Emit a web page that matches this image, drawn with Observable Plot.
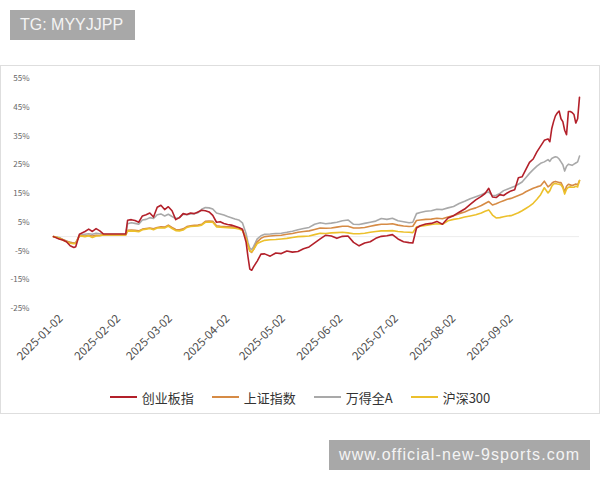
<!DOCTYPE html>
<html>
<head>
<meta charset="utf-8">
<script src="https://cdn.jsdelivr.net/npm/d3@7"></script>
<script src="https://cdn.jsdelivr.net/npm/@observablehq/plot@0.6"></script>
<style>
  html, body { margin: 0; padding: 0; background: #fff; }
  body { width: 600px; height: 480px; position: relative; overflow: hidden; font-family: "Noto Sans CJK SC", "Noto Sans", sans-serif; }
  .wm { position: absolute; background: #a8a8a8; color: #f4f4f4; font-family: "Liberation Sans", Arial, sans-serif; font-size: 16px; line-height: 30px; height: 30px; box-sizing: border-box; white-space: nowrap; }
  #frame { position: absolute; left: 0; top: 65px; width: 598px; height: 347px; border: 1px solid #dedede; background: #fff; }
  #chart { position: absolute; left: 0; top: 0; }
  #legend { position: absolute; left: 0; top: 316px; width: 598px; height: 30px; display: flex; justify-content: center; align-items: center; font-size: 13px; color: #333; }
  .item { display: flex; align-items: center; margin: 0 9px; }
  .swatch { width: 27px; height: 2px; margin-right: 5px; }
</style>
</head>
<body>
<div class="wm" style="left:10px; top:10px; width:125px; padding-left:10px;">TG: MYYJJPP</div>
<div id="frame">
  <div id="chart"></div>
  <div id="legend"></div>
</div>
<div class="wm" style="left:329px; top:440px; width:261px; padding-left:10px; letter-spacing:1.1px;">www.official-new-9sports.com</div>
<script>
const seriesNames = ["创业板指", "上证指数", "万得全A", "沪深300"];
const seriesColors = ["#b3202a", "#d68b45", "#a9a9a9", "#ecc02c"];

const xTickLabels = ["2025-01-02", "2025-02-02", "2025-03-02", "2025-04-02", "2025-05-02", "2025-06-02", "2025-07-02", "2025-08-02", "2025-09-02"];
const yTicks = [-25, -15, -5, 5, 15, 25, 35, 45, 55];

const dates = [
  "2024-12-29", "2025-01-01", "2025-01-03", "2025-01-05", "2025-01-07", "2025-01-09", "2025-01-10", "2025-01-12", "2025-01-15", "2025-01-17",
  "2025-01-19", "2025-01-21", "2025-01-23", "2025-01-25", "2025-02-06",
  "2025-02-07", "2025-02-09", "2025-02-11", "2025-02-13", "2025-02-15", "2025-02-17", "2025-02-19", "2025-02-21", "2025-02-23", "2025-02-25",
  "2025-02-27", "2025-03-01", "2025-03-03", "2025-03-05", "2025-03-07", "2025-03-09", "2025-03-11", "2025-03-13", "2025-03-15", "2025-03-17",
  "2025-03-19", "2025-03-21", "2025-03-23", "2025-03-25", "2025-03-27", "2025-03-29", "2025-03-31", "2025-04-02", "2025-04-04", "2025-04-06",
  "2025-04-08", "2025-04-10", "2025-04-12", "2025-04-13", "2025-04-14", "2025-04-15", "2025-04-16", "2025-04-18", "2025-04-20", "2025-04-22",
  "2025-04-25", "2025-04-28", "2025-05-01", "2025-05-04", "2025-05-07", "2025-05-10", "2025-05-13", "2025-05-16", "2025-05-19", "2025-05-22",
  "2025-05-25", "2025-05-28", "2025-05-31", "2025-06-03", "2025-06-06", "2025-06-09", "2025-06-12", "2025-06-15", "2025-06-18", "2025-06-21",
  "2025-06-24", "2025-06-27", "2025-06-30", "2025-07-03", "2025-07-06", "2025-07-09", "2025-07-11", "2025-07-13", "2025-07-15", "2025-07-18",
  "2025-07-21", "2025-07-24", "2025-07-27", "2025-07-30", "2025-08-02", "2025-08-05", "2025-08-08", "2025-08-11", "2025-08-14", "2025-08-17",
  "2025-08-19", "2025-08-21", "2025-08-23", "2025-08-25", "2025-08-27", "2025-08-29", "2025-08-31", "2025-09-02", "2025-09-04", "2025-09-06",
  "2025-09-08", "2025-09-10", "2025-09-12", "2025-09-14", "2025-09-16", "2025-09-18", "2025-09-20", "2025-09-22", "2025-09-23", "2025-09-24",
  "2025-09-25", "2025-09-26", "2025-09-27", "2025-09-28", "2025-09-29", "2025-09-30", "2025-10-01", "2025-10-02", "2025-10-03", "2025-10-04",
  "2025-10-05", "2025-10-06", "2025-10-07", "2025-10-08", "2025-10-09"
];

// 创业板指
const cyb = [
  0, -0.8, -1.2, -1.8, -3.2, -3.8, -3.5, 0.8, 1.8, 2.6,
  1.8, 2.8, 2.0, 0.9, 0.9,
  5.7, 5.9, 5.6, 5.0, 7.2, 7.6, 8.2, 6.8, 10.2, 10.9,
  9.4, 10.4, 9.0, 5.9, 6.6, 8.0, 7.7, 8.2, 8.0, 8.6,
  9.2, 9.0, 8.6, 7.4, 5.0, 5.2, 4.6, 4.2, 4.0, 3.6,
  3.2, 2.6, -2, -7, -11.3, -11.7, -10.5, -8.5, -6.1, -6.0,
  -6.8, -5.7, -5.9, -5.0, -5.4, -5.2, -4.2, -3.6, -2.2, -0.8,
  0.5, 0.2, -0.6, 0.1, 0.2, -2.0, -3.2, -2.2, -1.8, -0.6,
  0.1, 0.3, 0.7, -0.8, -1.8, -2.1, -2.2, 3.0, 3.8, 4.4,
  4.6, 5.3, 4.3, 6.5, 7.3, 8.5, 9.6, 11.2, 12.8, 14.0,
  15.0, 16.8, 13.8, 13.6, 14.6, 14.3, 15.2, 15.9, 16.3, 20.5,
  20.8, 23.3, 25.8, 27.0, 29.5, 31.5, 33.5, 34.0, 33.0, 37.5,
  40.0, 42.0, 43.0, 43.7, 41.0, 40.0, 37.0, 35.5, 43.5, 43.5,
  43.2, 42.5, 39.5, 41.0, 48.5
];

// 上证指数
const szzs = [
  0, -0.5, -1.0, -1.6, -2.0, -2.2, -2.2, 0.3, 0.2, 0.4,
  0.2, 0.5, 0.4, 0.6, 0.6,
  2.2, 2.3, 2.2, 2.0, 2.6, 2.8, 3.0, 2.7, 3.2, 3.4,
  3.3, 4.0, 3.2, 2.5, 2.4, 2.7, 3.5, 3.8, 3.9, 4.0,
  4.3, 5.3, 5.4, 5.3, 3.8, 3.6, 3.5, 3.4, 3.4, 3.2,
  3.0, 2.4, -0.5, -3, -5, -5.5, -4.5, -1.8, -0.6, 0.0,
  0.2, 0.4, 0.5, 0.8, 1.1, 1.5, 1.8, 2.0, 2.5, 3.0,
  2.9, 3.0, 3.3, 3.6, 3.6, 3.0, 3.0, 3.2, 3.6, 4.0,
  4.3, 4.3, 4.5, 4.0, 3.7, 3.5, 3.6, 5.6, 5.8, 6.0,
  6.1, 6.4, 6.2, 6.8, 7.3, 8.0, 8.6, 9.4, 10.0, 10.8,
  11.5, 12.2, 11.0, 11.4, 12.0, 12.5, 13.0, 13.3, 13.8, 14.3,
  14.8, 15.6, 16.2, 16.8, 17.3, 17.7, 19.3, 17.3, 17.8, 18.5,
  19.0, 19.2, 19.0, 18.8, 18.8, 17.5, 15.5, 17.5, 18.2, 18.0,
  17.8, 18.0, 18.3, 18.0, 19.5
];

// 万得全A
const wdqa = [
  0, -0.3, -1.0, -1.5, -2.0, -2.3, -2.2, 0.5, 0.8, 1.0,
  0.8, 1.2, 1.0, 0.8, 0.8,
  4.5, 4.8, 4.6, 4.3, 5.8, 6.0, 6.6, 6.3, 7.6, 7.9,
  7.2, 7.8, 7.0, 6.3, 6.6, 7.8, 7.6, 7.9, 8.0, 8.3,
  9.5, 10.1, 10.0, 9.6, 8.2, 7.9, 7.5, 7.0, 6.6, 6.1,
  5.8, 4.8, 1.0, -2, -4, -4.5, -3.5, -0.8, 0.3, 0.8,
  0.9, 1.1, 1.2, 1.5, 1.9, 2.4, 2.8, 3.2, 4.3, 4.8,
  4.5, 4.7, 5.0, 5.5, 5.8, 4.3, 4.2, 4.6, 5.0, 5.4,
  6.3, 6.0, 6.4, 5.5, 5.2, 4.8, 5.0, 8.0, 8.4, 8.8,
  9.0, 9.5, 9.4, 10.0, 10.5, 11.5, 12.3, 13.2, 13.9, 14.6,
  15.2, 15.5, 14.2, 14.4, 15.0, 16.0, 16.5, 17.0, 17.5, 18.2,
  19.0, 20.5, 22.0, 23.3, 24.5, 25.5, 26.0, 26.8, 26.2, 27.2,
  27.5, 27.8, 27.6, 27.0, 26.0, 25.0, 22.8, 24.5, 25.2, 25.0,
  24.8, 25.2, 25.6, 26.0, 28.0
];

// 沪深300
const hs300 = [
  0, -0.5, -1.2, -1.8, -2.3, -2.5, -2.4, 0.3, 0.0, 0.3,
  -0.3, 0.2, 0.3, 0.6, 0.6,
  1.9, 2.0, 1.9, 1.7, 2.4, 2.6, 2.8, 2.4, 3.0, 3.1,
  3.0, 3.7, 2.8, 2.1, 2.0, 2.3, 3.2, 3.5, 3.6, 3.7,
  4.0, 5.0, 5.1, 5.0, 3.4, 3.3, 3.2, 3.1, 3.0, 2.9,
  2.7, 2.1, -0.8, -3, -5, -5.3, -4.5, -2.4, -1.8, -1.3,
  -1.1, -1.0, -0.8, -0.6, -0.3, 0.0, 0.1, 0.2, 0.7, 1.2,
  1.1, 1.3, 1.4, 1.5, 1.3, 1.0, 1.0, 1.2, 1.5, 1.8,
  2.0, 2.0, 2.1, 1.8, 1.6, 1.5, 1.4, 3.4, 3.6, 3.9,
  4.2, 4.5, 4.3, 5.5, 6.0, 6.3, 6.8, 7.2, 7.6, 8.2,
  8.8, 9.3, 7.5, 6.5, 6.6, 6.9, 7.2, 7.3, 7.8, 8.3,
  9.0, 9.8, 10.6, 11.6, 13.0, 14.6, 17.0, 15.2, 16.0, 17.5,
  18.3, 18.5, 18.3, 18.2, 18.0, 17.0, 14.8, 16.5, 17.2, 17.3,
  17.2, 17.2, 17.5, 17.3, 19.5
];

const seriesValues = [cyb, szzs, wdqa, hs300];
const parse = d3.utcParse("%Y-%m-%d");
const fmt = d3.utcFormat("%Y-%m-%d");

const rows = [];
seriesNames.forEach((name, i) => {
  dates.forEach((d, j) => rows.push({date: parse(d), value: seriesValues[i][j], series: name}));
});

// drawing order: 万得全A, 上证指数, 沪深300, 创业板指 (top)
const drawOrder = ["万得全A", "上证指数", "沪深300", "创业板指"];

const chart = Plot.plot({
  width: 598,
  height: 316,
  marginTop: 12,
  marginBottom: 74,
  marginLeft: 52,
  marginRight: 20,
  style: {fontFamily: "'Noto Sans CJK SC', 'Noto Sans', sans-serif", color: "#555", background: "transparent"},
  x: {type: "utc", domain: [parse("2024-12-29"), parse("2025-10-09")], label: null},
  y: {domain: [-25, 55], label: null},
  color: {domain: seriesNames, range: seriesColors},
  marks: [
    Plot.ruleY([0], {stroke: "#ececec", strokeWidth: 1}),
    Plot.axisY({ticks: yTicks, tickSize: 0, tickPadding: 24, tickFormat: d => d + "%", fontSize: 8, fill: "#666"}),
    Plot.axisX({ticks: xTickLabels.map(parse), tickSize: 0, tickPadding: 8, tickRotate: -45, tickFormat: fmt, fontSize: 11.5, fill: "#4d4d4d"}),
    ...drawOrder.map(name => Plot.lineY(rows.filter(r => r.series === name), {
      x: "date", y: "value", stroke: "series", strokeWidth: 1.6, strokeLinejoin: "round"
    }))
  ]
});
document.getElementById("chart").appendChild(chart);

const legend = document.getElementById("legend");
seriesNames.forEach((name, i) => {
  const item = document.createElement("div");
  item.className = "item";
  const sw = document.createElement("div");
  sw.className = "swatch";
  sw.style.background = seriesColors[i];
  const label = document.createElement("span");
  label.textContent = name;
  item.appendChild(sw);
  item.appendChild(label);
  legend.appendChild(item);
});
</script>
</body>
</html>
